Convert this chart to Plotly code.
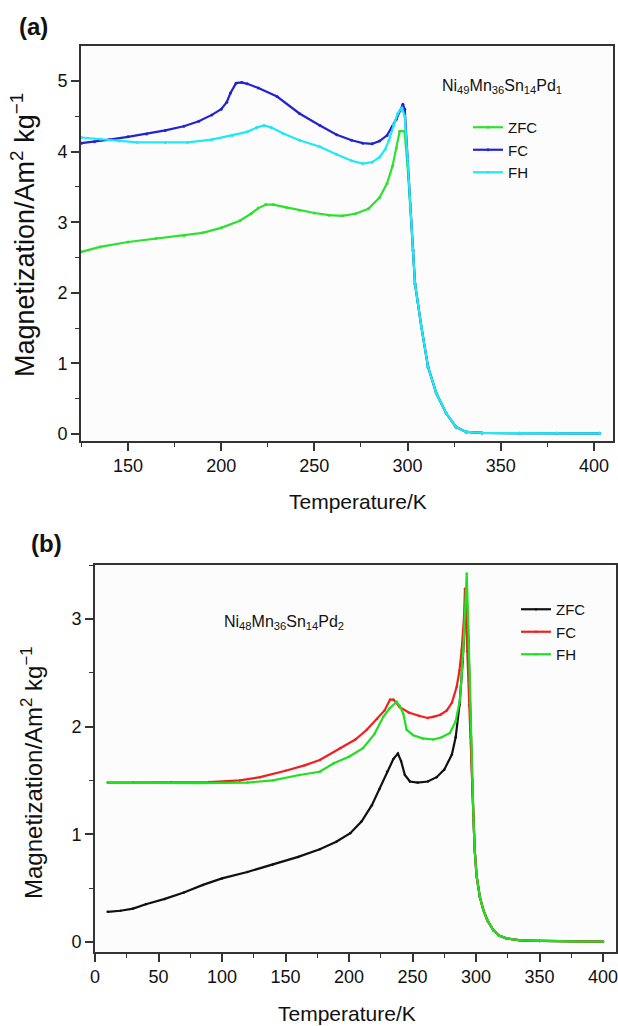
import plotly.graph_objects as go

# ---------------- Panel (a): Ni49Mn36Sn14Pd1 ----------------
a_zfc_T = [125, 135, 150, 165, 180, 190, 200, 210, 216, 220, 224, 228, 235, 242, 250, 258, 265, 272, 279, 285, 289, 292, 294, 295.8, 298.4,
           300, 301.5, 303, 304, 307.4, 311, 315.4, 320.8, 326, 331.5, 340, 360, 380, 403]
a_zfc_M = [2.58, 2.65, 2.72, 2.77, 2.81, 2.85, 2.92, 3.02, 3.12, 3.20, 3.25, 3.25, 3.21, 3.17, 3.13, 3.10, 3.09, 3.12, 3.19, 3.35, 3.55, 3.80, 4.05, 4.29, 4.29,
           3.80, 3.20, 2.60, 2.13, 1.52, 0.95, 0.58, 0.29, 0.10, 0.03, 0.015, 0.012, 0.01, 0.01]

a_fc_T = [125, 132, 140, 150, 160, 170, 180, 188, 195, 200, 203, 205, 208, 211, 214, 220, 230, 242, 253, 262, 270, 276, 281, 285, 289, 292, 294, 296, 297.5, 298.5,
          300, 301.5, 303, 304, 307.4, 311, 315.4, 320.8, 326, 331.5, 340, 360, 380, 403]
a_fc_M = [4.12, 4.14, 4.17, 4.21, 4.25, 4.30, 4.36, 4.43, 4.52, 4.60, 4.70, 4.83, 4.97, 4.98, 4.96, 4.90, 4.78, 4.54, 4.37, 4.24, 4.16, 4.12, 4.11, 4.15, 4.23, 4.36, 4.46, 4.58, 4.67, 4.60,
          3.90, 3.20, 2.60, 2.13, 1.52, 0.95, 0.58, 0.29, 0.10, 0.03, 0.015, 0.012, 0.01, 0.01]

a_fh_T = [125, 135, 145, 155, 170, 182, 195, 206, 214, 219, 223, 227, 233, 242, 253, 262, 270, 276, 281, 285, 288, 290, 292.5, 294.7, 297, 298.5,
          300, 301.5, 303, 304, 307.4, 311, 315.4, 320.8, 326, 331.5, 340, 360, 380, 403]
a_fh_M = [4.20, 4.18, 4.15, 4.13, 4.13, 4.13, 4.17, 4.23, 4.28, 4.34, 4.37, 4.34, 4.26, 4.16, 4.07, 3.96, 3.87, 3.83, 3.85, 3.92, 4.03, 4.16, 4.38, 4.54, 4.62, 4.50,
          3.90, 3.20, 2.60, 2.13, 1.52, 0.95, 0.58, 0.29, 0.10, 0.03, 0.015, 0.012, 0.01, 0.01]

# ---------------- Panel (b): Ni48Mn36Sn14Pd2 ----------------
b_zfc_T = [10, 20, 30, 40, 55, 70, 85, 100, 120, 140, 160, 177, 190, 201, 210, 218, 224, 230, 235, 238.5, 241, 244, 248, 254, 262, 269, 275, 281, 284, 287, 289.5, 291, 292.5,
           294, 295, 296, 297, 298, 299, 300.5, 303, 305.7, 309, 313.6, 318, 324, 335, 350, 375, 400]
b_zfc_M = [0.28, 0.29, 0.31, 0.35, 0.40, 0.46, 0.53, 0.59, 0.65, 0.72, 0.79, 0.86, 0.93, 1.01, 1.12, 1.27, 1.42, 1.58, 1.70, 1.75, 1.68, 1.55, 1.49, 1.48, 1.49, 1.53, 1.60, 1.74, 1.90, 2.20, 2.60, 2.95, 3.25,
           2.80, 2.30, 1.90, 1.50, 1.15, 0.85, 0.61, 0.42, 0.30, 0.20, 0.11, 0.06, 0.034, 0.015, 0.01, 0.005, 0.003]

b_fc_T = [10, 30, 60, 90, 114, 130, 150, 165, 177, 193, 205, 214, 222, 228, 232.3, 235, 240, 247, 255, 262, 266.4, 272, 277, 281, 284.8, 287, 288.7, 290.6, 291.3,
          293, 294.5, 296, 297, 298, 299, 300.5, 303, 305.7, 309, 313.6, 318, 324, 335, 350, 375, 400]
b_fc_M = [1.48, 1.48, 1.48, 1.485, 1.50, 1.53, 1.59, 1.64, 1.69, 1.80, 1.88, 1.97, 2.07, 2.15, 2.25, 2.25, 2.18, 2.13, 2.10, 2.08, 2.09, 2.11, 2.15, 2.22, 2.37, 2.52, 2.71, 3.02, 3.28,
          2.70, 2.20, 1.85, 1.50, 1.15, 0.85, 0.61, 0.42, 0.30, 0.20, 0.11, 0.06, 0.034, 0.015, 0.01, 0.005, 0.003]

b_fh_T = [10, 40, 80, 120, 140, 161, 177, 188, 200, 211, 220, 227, 232, 237.5, 240, 242.7, 245.4, 250.6, 258, 266.4, 273, 279.5, 284, 287.4, 290, 291.5, 292.7,
          294, 295, 296, 297, 298, 299, 300.5, 303, 305.7, 309, 313.6, 318, 324, 335, 350, 375, 400]
b_fh_M = [1.48, 1.475, 1.475, 1.48, 1.50, 1.55, 1.58, 1.66, 1.72, 1.80, 1.93, 2.09, 2.17, 2.23, 2.19, 2.12, 1.97, 1.92, 1.89, 1.88, 1.90, 1.94, 2.05, 2.25, 2.71, 3.10, 3.42,
          2.90, 2.40, 1.90, 1.50, 1.15, 0.85, 0.61, 0.42, 0.30, 0.20, 0.11, 0.06, 0.034, 0.015, 0.01, 0.005, 0.003]

series_names = ["ZFC", "FC", "FH"]
a_colors = ["#2fe02f", "#2323d0", "#20e8f8"]
b_colors = ["#111111", "#f02020", "#20e020"]

W, H = 618, 1026
FONT = "Liberation Sans, Arial, Helvetica, sans-serif"

fig = go.Figure()

a_data = [(a_zfc_T, a_zfc_M), (a_fc_T, a_fc_M), (a_fh_T, a_fh_M)]
b_data = [(b_zfc_T, b_zfc_M), (b_fc_T, b_fc_M), (b_fh_T, b_fh_M)]

for (T, M), name, col in zip(a_data, series_names, a_colors):
    fig.add_trace(go.Scatter(x=T, y=M, name=name, mode="lines+markers",
                             line=dict(color=col, width=2.2), marker=dict(color=col, size=3),
                             xaxis="x", yaxis="y", legend="legend"))
for (T, M), name, col in zip(b_data, series_names, b_colors):
    fig.add_trace(go.Scatter(x=T, y=M, name=name, mode="lines+markers",
                             line=dict(color=col, width=2.2), marker=dict(color=col, size=2.5),
                             xaxis="x2", yaxis="y2", legend="legend2"))

def px_x(p):
    return p / W

def px_y(p):
    return 1 - p / H

axis_common = dict(showline=True, linecolor="#333333", linewidth=1.6, mirror=True,
                   ticks="outside", ticklen=8, tickwidth=1.5, tickcolor="#333333",
                   showgrid=False, zeroline=False, automargin=False,
                   ticklabeloverflow="allow",
                   tickfont=dict(family=FONT, size=18, color="#111111"))

fig.update_layout(
    width=W, height=H,
    margin=dict(l=0, r=0, t=0, b=0),
    paper_bgcolor="white",
    plot_bgcolor="#fcfcfd",
    font=dict(family=FONT, color="#111111"),
    xaxis=dict(domain=[px_x(81), px_x(613.3)], range=[124.8, 410.4], anchor="y",
               tickvals=[150, 200, 250, 300, 350, 400],
               minor=dict(dtick=25, tick0=0, ticks="outside", ticklen=4, tickwidth=1.3, tickcolor="#333333"),
               **axis_common),
    yaxis=dict(domain=[px_y(441), px_y(46)], range=[-0.099, 5.496], anchor="x",
               tickvals=[0, 1, 2, 3, 4, 5],
               minor=dict(dtick=0.5, tick0=0, ticks="outside", ticklen=4, tickwidth=1.3, tickcolor="#333333"),
               **axis_common),
    xaxis2=dict(domain=[px_x(95), px_x(615.7)], range=[0, 410], anchor="y2",
                tickvals=[0, 50, 100, 150, 200, 250, 300, 350, 400],
                minor=dict(dtick=25, tick0=0, ticks="outside", ticklen=4, tickwidth=1.3, tickcolor="#333333"),
                **axis_common),
    yaxis2=dict(domain=[px_y(952), px_y(565)], range=[-0.093, 3.50], anchor="x2",
                tickvals=[0, 1, 2, 3],
                minor=dict(dtick=0.5, tick0=0, ticks="outside", ticklen=4, tickwidth=1.3, tickcolor="#333333"),
                **axis_common),
    legend=dict(x=px_x(468), y=px_y(111), xanchor="left", yanchor="top",
                bgcolor="rgba(0,0,0,0)", font=dict(family=FONT, size=15, color="#111111"),
                tracegroupgap=0),
    legend2=dict(x=px_x(516), y=px_y(593), xanchor="left", yanchor="top",
                 bgcolor="rgba(0,0,0,0)", font=dict(family=FONT, size=15, color="#111111"),
                 tracegroupgap=0),
)

ann = [
    dict(text="<b>(a)</b>", x=px_x(33), y=px_y(27), font=dict(size=24)),
    dict(text="<b>(b)</b>", x=px_x(46), y=px_y(543), font=dict(size=24)),
    dict(text="Ni<sub>49</sub>Mn<sub>36</sub>Sn<sub>14</sub>Pd<sub>1</sub>", x=px_x(501.5), y=px_y(87), font=dict(size=16)),
    dict(text="Ni<sub>48</sub>Mn<sub>36</sub>Sn<sub>14</sub>Pd<sub>2</sub>", x=px_x(283.5), y=px_y(622), font=dict(size=16)),
    dict(text="Temperature/K", x=px_x(358), y=px_y(502), font=dict(size=21)),
    dict(text="Temperature/K", x=px_x(346.5), y=px_y(1013), font=dict(size=21)),
    dict(text="Magnetization/Am<sup>2</sup> kg<sup>\u22121</sup>", x=px_x(23), y=px_y(235), textangle=-90, font=dict(size=27)),
    dict(text="Magnetization/Am<sup>2</sup> kg<sup>\u22121</sup>", x=px_x(32), y=px_y(773), textangle=-90, font=dict(size=24)),
]
for a in ann:
    a.update(xref="paper", yref="paper", showarrow=False, xanchor="center", yanchor="middle")
    a["font"].update(family=FONT, color="#111111")
    fig.add_annotation(**a)

fig.write_html("out.html")
